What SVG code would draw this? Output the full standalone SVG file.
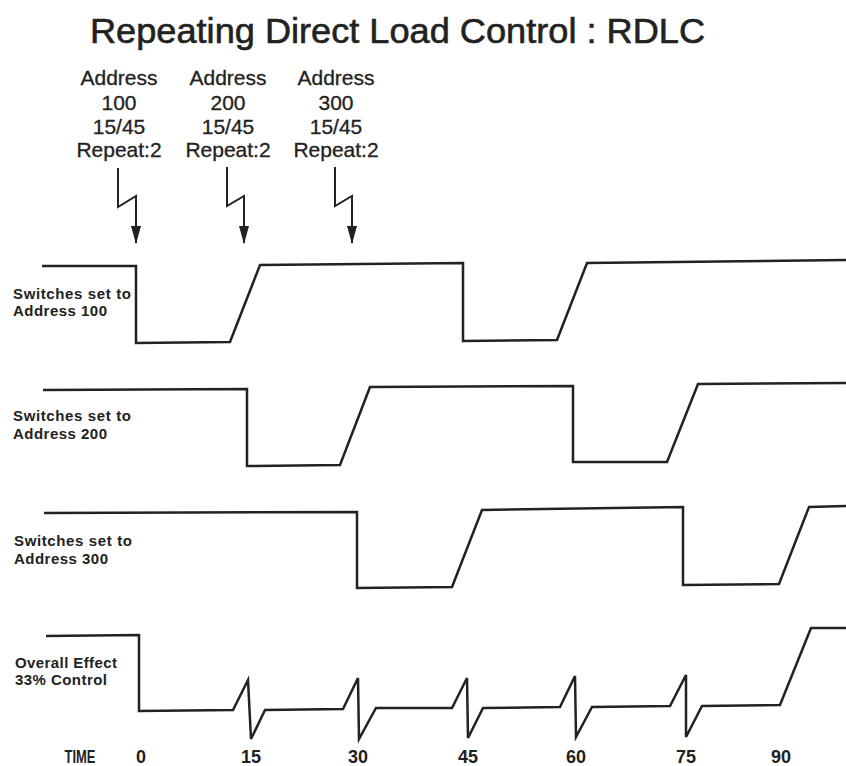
<svg xmlns="http://www.w3.org/2000/svg" width="846" height="766" viewBox="0 0 846 766">
  <style>
    .title { font-family: "Liberation Sans", Arial, sans-serif; font-size: 35px; fill: #222; stroke: #222; stroke-width: 0.6; }
    .addr { font-family: "Liberation Sans", Arial, sans-serif; font-size: 21px; fill: #222; text-anchor: middle; stroke: #222; stroke-width: 0.3; }
    .lbl { font-family: "Liberation Sans", Arial, sans-serif; font-size: 15px; font-weight: bold; fill: #222; }
    .time { font-family: "Liberation Sans", Arial, sans-serif; font-size: 18px; font-weight: bold; fill: #222; text-anchor: middle; }
    .wave { fill: none; stroke: #222; stroke-width: 2.5; stroke-linejoin: miter; }
    .bolt { fill: none; stroke: #222; stroke-width: 2; }
  </style>
  <defs>
    <marker id="ah" viewBox="0 0 18 10" refX="17" refY="5" markerWidth="18" markerHeight="10" markerUnits="userSpaceOnUse" orient="auto">
      <path d="M0,0 L18,5 L0,10 Z" fill="#222"/>
    </marker>
  </defs>
  <rect width="846" height="766" fill="#fff"/>

  <g id="title">
    <text class="title" x="90" y="43" textLength="615" lengthAdjust="spacingAndGlyphs">Repeating Direct Load Control : RDLC</text>
  </g>

  <g id="cmd-100">
    <text class="addr" x="119" y="85">Address</text>
    <text class="addr" x="119" y="110">100</text>
    <text class="addr" x="119" y="134">15/45</text>
    <text class="addr" x="119" y="157">Repeat:2</text>
  </g>
  <g id="cmd-200">
    <text class="addr" x="228" y="85">Address</text>
    <text class="addr" x="228" y="110">200</text>
    <text class="addr" x="228" y="134">15/45</text>
    <text class="addr" x="228" y="157">Repeat:2</text>
  </g>
  <g id="cmd-300">
    <text class="addr" x="336" y="85">Address</text>
    <text class="addr" x="336" y="110">300</text>
    <text class="addr" x="336" y="134">15/45</text>
    <text class="addr" x="336" y="157">Repeat:2</text>
  </g>

  <g id="connectors">
    <polyline class="bolt" points="118,168 118,207 136,196 136,243" marker-end="url(#ah)"/>
    <polyline class="bolt" points="227,167 227,206 244,196 244,243" marker-end="url(#ah)"/>
    <polyline class="bolt" points="335,167 335,206 352,196 352,243" marker-end="url(#ah)"/>
  </g>

  <g id="wave-100">
    <text class="lbl" x="13" y="299" textLength="118" lengthAdjust="spacing">Switches set to</text>
    <text class="lbl" x="13" y="316" textLength="94" lengthAdjust="spacing">Address 100</text>
    <polyline class="wave" points="42,266 136,266 136,343 230,342 260,265 463,263 463,341 557,340 587,263 846,260"/>
  </g>
  <g id="wave-200">
    <text class="lbl" x="13" y="421" textLength="118" lengthAdjust="spacing">Switches set to</text>
    <text class="lbl" x="13" y="439" textLength="94" lengthAdjust="spacing">Address 200</text>
    <polyline class="wave" points="43,390 247,389 247,466 340,465 370,387 573,386 573,462 667,462 698,384 846,383"/>
  </g>
  <g id="wave-300">
    <text class="lbl" x="14" y="546" textLength="118" lengthAdjust="spacing">Switches set to</text>
    <text class="lbl" x="14" y="564" textLength="94" lengthAdjust="spacing">Address 300</text>
    <polyline class="wave" points="44,513 357,512 357,588 452,587 482,510 683,507 683,585 779,584 809,507 846,506"/>
  </g>
  <g id="wave-overall">
    <text class="lbl" x="15" y="668" textLength="102" lengthAdjust="spacing">Overall Effect</text>
    <text class="lbl" x="15" y="685" textLength="92" lengthAdjust="spacing">33% Control</text>
    <polyline class="wave" points="46,636 139,635 139,711 233,710 248,680 251,739 265,710 343,709 358,678 359,739 376,708 452,708 467,678 468,738 483,708 560,707 575,676 576,737 592,707 670,706 686,675 686,737 702,706 780,705 811,628 846,628"/>
  </g>

  <g id="time-axis">
    <text class="time" x="80" y="763" textLength="31" lengthAdjust="spacingAndGlyphs">TIME</text>
    <text class="time" x="141" y="763">0</text>
    <text class="time" x="251" y="763">15</text>
    <text class="time" x="358" y="763">30</text>
    <text class="time" x="468" y="763">45</text>
    <text class="time" x="576" y="763">60</text>
    <text class="time" x="686" y="763">75</text>
    <text class="time" x="781" y="763">90</text>
  </g>
</svg>
